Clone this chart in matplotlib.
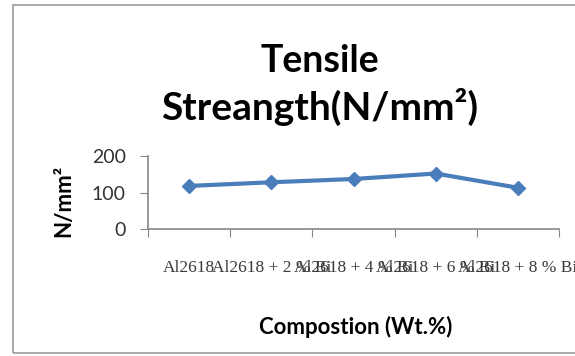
import matplotlib
matplotlib.use("Agg")
import matplotlib.pyplot as plt
from matplotlib.patches import Rectangle

categories = ["Al2618", "Al2618 + 2 % Bi", "Al2618 + 4 % Bi", "Al2618 + 6 % Bi", "Al2618 + 8 % Bi"]
strength = [118, 128, 137, 152, 113]
yticks = [0, 100, 200]

W, H = 575, 356
fig = plt.figure(figsize=(W / 100, H / 100), dpi=100)
fig.patch.set_facecolor("white")

# outer chart border (right side runs off the picture)
fig.add_artist(Rectangle((13 / W, 1 - 353 / H), 1.0, (353 - 5) / H,
                         transform=fig.transFigure, fill=False,
                         edgecolor="#9a9a9a", linewidth=1.2))

ax = fig.add_axes([148 / W, 1 - 229 / H, (559 - 148) / W, (229 - 156) / H])
x = list(range(1, len(categories) + 1))
ax.plot(x, strength, color="#4a7ebb", linewidth=3, marker="D", markersize=7,
        markerfacecolor="#4a7ebb", markeredgecolor="#4a7ebb")

ax.set_xlim(0.5, len(categories) + 0.5)
ax.set_ylim(0, 200)
ax.set_yticks(yticks)
ax.set_yticklabels([str(v) for v in yticks], fontsize=14, family="Lato", color="#333333")

# category boundaries carry the tick marks, labels sit between them
ax.set_xticks([i + 0.5 for i in range(len(categories) + 1)])
ax.set_xticklabels([])
ax.set_xticks(x, minor=True)
ax.set_xticklabels(categories, minor=True, fontsize=12.5, family="Liberation Serif", color="#3a3a3a")
ax.tick_params(axis="x", which="minor", length=0, pad=22)
ax.tick_params(axis="x", which="major", length=6, color="#868686")
ax.tick_params(axis="y", length=6, color="#868686", pad=10)

for side in ["top", "right"]:
    ax.spines[side].set_visible(False)
for side in ["left", "bottom"]:
    ax.spines[side].set_color("#868686")
    ax.spines[side].set_linewidth(1.2)

ax.set_ylabel("N/mm²", fontsize=16, fontweight="bold", family="Lato")
ax.yaxis.set_label_coords(-0.18, 0.38)

fig.text(320 / W, 1 - 61 / H, "Tensile", ha="center", va="center",
         fontsize=27, fontweight="bold", family="Lato")
fig.text(320 / W, 1 - 107 / H, "Streangth(N/mm²)", ha="center", va="center",
         fontsize=28, fontweight="bold", family="Lato")
fig.text(356 / W, 1 - 327 / H, "Compostion (Wt.%)", ha="center", va="center",
         fontsize=16, fontweight="bold", family="Lato")

fig.savefig("out.png", dpi=100)
